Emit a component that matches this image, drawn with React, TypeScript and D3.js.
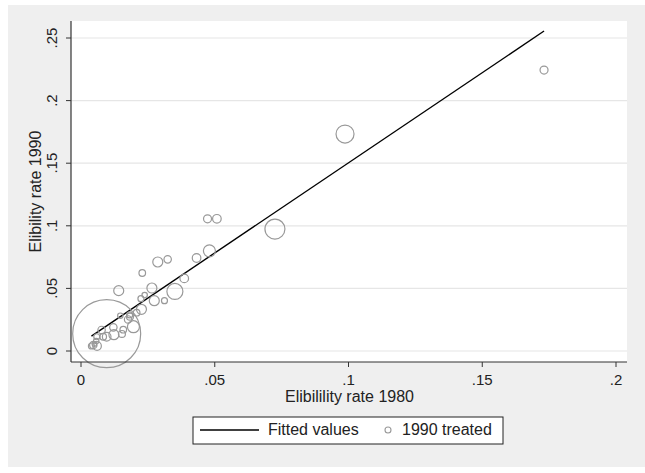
import { FC } from 'react';
import * as d3 from 'd3';

// eligibility rates and weights
const rate1980 = [
  0.1731, 0.0987, 0.0725, 0.0473, 0.0508, 0.048, 0.0432, 0.0324, 0.0287, 0.0386,
  0.0351, 0.0312, 0.0229, 0.0141, 0.0265, 0.0274, 0.0224, 0.0238, 0.0226, 0.0196,
  0.0183, 0.0176, 0.0147, 0.0158, 0.0153, 0.0121, 0.0123, 0.0096, 0.0083, 0.0077,
  0.0059, 0.006, 0.0046, 0.0039, 0.005, 0.0057, 0.0096, 0.0182, 0.0208,
];
const rate1990 = [
  0.2244, 0.1733, 0.0974, 0.1056, 0.1056, 0.08, 0.0743, 0.0732, 0.0711, 0.058,
  0.0476, 0.0402, 0.0623, 0.0482, 0.0503, 0.0402, 0.0418, 0.0447, 0.0333, 0.0194,
  0.0274, 0.0252, 0.0282, 0.017, 0.0136, 0.0189, 0.013, 0.0114, 0.0114, 0.0168,
  0.0114, 0.004, 0.0048, 0.004, 0.0056, 0.008, 0.0138, 0.0288, 0.0306,
];
const weight = [
  160, 810, 1000, 160, 185, 360, 185, 137, 250, 185,
  640, 90, 109, 250, 250, 250, 90, 73, 250, 360,
  122, 137, 73, 109, 122, 137, 250, 185, 109, 137,
  90, 185, 137, 90, 53, 73, 11560, 90, 109,
];

const fitIntercept = 0.0063;
const fitSlope = 1.44;

const xTicks = [0, 0.05, 0.1, 0.15, 0.2];
const yTicks = [0, 0.05, 0.1, 0.15, 0.2, 0.25];
const fmt = (v: number) => (v === 0 ? '0' : String(v).replace(/^0/, ''));

const FONT = '"Liberation Sans", Arial, sans-serif';

const App: FC = () => {
  const W = 645;
  const H = 473;
  const left = 71;
  const right = 627;
  const top = 21;
  const bottom = 362;

  const x = d3.scaleLinear().domain([0, 0.2]).range([81, 616]);
  const y = d3.scaleLinear().domain([0, 0.25]).range([351, 38]);
  const r = d3.scaleSqrt().domain([0, 11560]).range([0, 34]);

  const pts = rate1980.map((v, i) => ({ x: v, y: rate1990[i], w: weight[i] }));
  const xMin = d3.min(rate1980) as number;
  const xMax = d3.max(rate1980) as number;
  const fit = d3
    .line<number>()
    .x((d) => x(d))
    .y((d) => y(fitIntercept + fitSlope * d))([xMin, xMax]);

  return (
    <svg
      width={W}
      height={H}
      style={{ position: 'absolute', left: 0, top: 0 }}
      fontFamily={FONT}
    >
      <rect x={8} y={5} width={W - 8} height={462} fill="#efefef" />
      <rect x={left} y={top} width={right - left} height={bottom - top} fill="#fff" />
      {yTicks.map((t) => (
        <line key={'g' + t} x1={left} x2={right} y1={y(t)} y2={y(t)} stroke="#e6e6e6" strokeWidth={1.2} />
      ))}
      <path d={fit ?? ''} fill="none" stroke="#000" strokeWidth={1.4} />
      {pts.map((p, i) => (
        <circle
          key={i}
          cx={x(p.x)}
          cy={y(p.y)}
          r={r(p.w)}
          fill="none"
          stroke="#999"
          strokeWidth={1.2}
        />
      ))}
      <line x1={left} x2={left} y1={top} y2={bottom} stroke="#333" strokeWidth={1.2} />
      <line x1={left} x2={right} y1={bottom} y2={bottom} stroke="#333" strokeWidth={1.2} />
      {yTicks.map((t) => (
        <g key={'y' + t}>
          <line x1={left - 5} x2={left} y1={y(t)} y2={y(t)} stroke="#333" />
          <text
            transform={`translate(57,${y(t)}) rotate(-90)`}
            textAnchor="middle"
            fontSize={15}
            fill="#222"
          >
            {fmt(t)}
          </text>
        </g>
      ))}
      {xTicks.map((t) => (
        <g key={'x' + t}>
          <line x1={x(t)} x2={x(t)} y1={bottom} y2={bottom + 5} stroke="#333" />
          <text x={x(t)} y={384.5} textAnchor="middle" fontSize={15} fill="#222">
            {fmt(t)}
          </text>
        </g>
      ))}
      <text x={(left + right) / 2 + 0.5} y={401.5} textAnchor="middle" fontSize={16} fill="#222">
        Elibilility rate 1980
      </text>
      <text
        transform={`translate(41,${(top + bottom) / 2}) rotate(-90)`}
        textAnchor="middle"
        fontSize={16}
        fill="#222"
      >
        Elibility rate 1990
      </text>
      <g>
        <rect x={193} y={417} width={310} height={27} fill="#fff" stroke="#222" strokeWidth={1} />
        <line x1={200} x2={259} y1={430} y2={430} stroke="#000" strokeWidth={1.4} />
        <text x={268} y={435} fontSize={16} fill="#222">
          Fitted values
        </text>
        <circle cx={388} cy={430} r={3} fill="none" stroke="#999" strokeWidth={1.1} />
        <text x={402} y={435} fontSize={16} fill="#222">
          1990 treated
        </text>
      </g>
    </svg>
  );
};

export default App;
